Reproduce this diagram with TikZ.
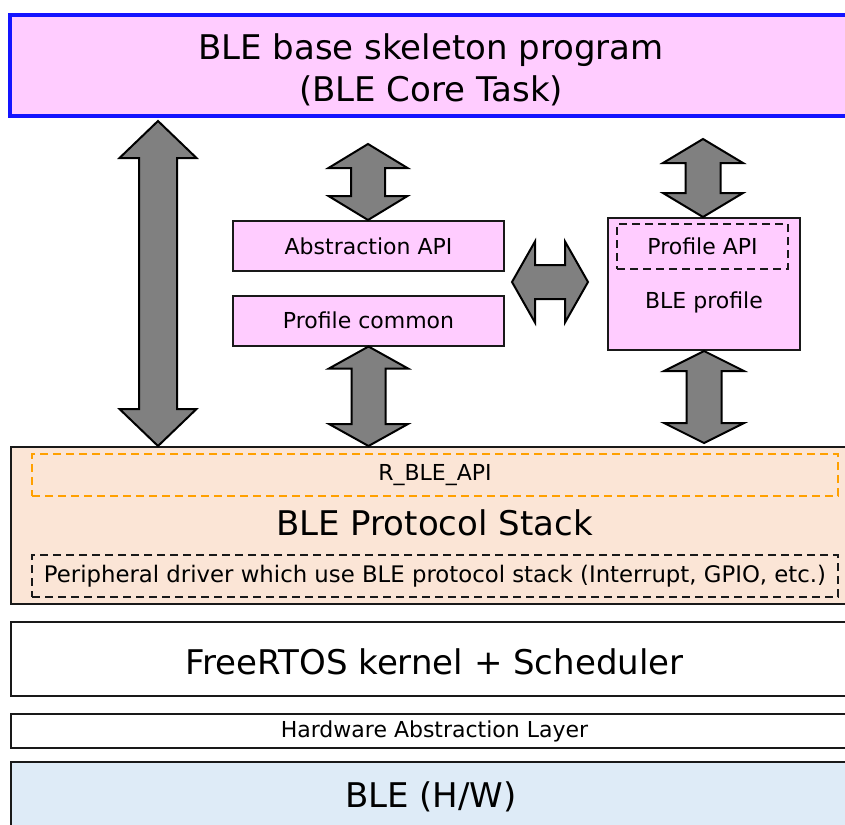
\documentclass[tikz,border=0pt]{standalone}
\usepackage{fontspec}
\setmainfont{DejaVu Sans}
\usetikzlibrary{calc}
\definecolor{blepink}{RGB}{255,204,255}
\definecolor{blepeach}{RGB}{251,229,214}
\definecolor{bleblue}{RGB}{222,235,247}
\definecolor{bleorange}{RGB}{255,160,0}
\definecolor{coreblue}{RGB}{20,20,255}
\definecolor{fatgray}{RGB}{128,128,128}
\tikzstyle{layer} = [draw=black!90, line width=1pt, inner sep=0pt, minimum width=423.5pt]
\tikzstyle{block} = [draw=black!90, line width=1pt, inner sep=0pt, fill=blepink]
\tikzstyle{dashbox} = [line width=1pt, dash pattern=on 4pt off 2.5pt, inner sep=0pt, minimum width=403pt, minimum height=21pt]
\tikzstyle{fat} = [draw=black, line width=1pt, fill=fatgray, line join=miter]
\newcommand{\bigtext}{\fontsize{17}{21}\selectfont}
\newcommand{\smalltext}{\fontsize{11}{13}\selectfont}
% vertical double arrow: top tip, bottom tip, head half width, head length, shaft half width
\newcommand{\vfat}[5]{%
  \draw[fat] let \p1=(#1), \p2=(#2) in
    (\x1,\y1) -- (\x1+#3,\y1-#4) -- (\x1+#5,\y1-#4) -- (\x1+#5,\y2+#4)
    -- (\x1+#3,\y2+#4) -- (\x1,\y2) -- (\x1-#3,\y2+#4) -- (\x1-#5,\y2+#4)
    -- (\x1-#5,\y1-#4) -- (\x1-#3,\y1-#4) -- cycle;}
% horizontal double arrow: left tip, right tip, same sizes
\newcommand{\hfat}[5]{%
  \draw[fat] let \p1=(#1), \p2=(#2) in
    (\x1,\y1) -- (\x1+#4,\y1+#3) -- (\x1+#4,\y1+#5) -- (\x2-#4,\y1+#5)
    -- (\x2-#4,\y1+#3) -- (\x2,\y1) -- (\x2-#4,\y1-#3) -- (\x2-#4,\y1-#5)
    -- (\x1+#4,\y1-#5) -- (\x1+#4,\y1-#3) -- cycle;}
\begin{document}
\begin{tikzpicture}[x=0.5pt, y=-0.5pt]
\useasboundingbox (0,0) rectangle (845,824);
\clip (0,0) rectangle (845,824);

% core task
\node[draw=coreblue, line width=2pt, fill=blepink, inner sep=0pt, minimum width=422.5pt,
  minimum height=50.5pt] (core) at (432.5,65.5) {};
\node[align=center, font=\bigtext] (coretxt) at (431,69.5)
  {BLE base skeleton program\\(BLE Core Task)};

% middle blocks
\node[block, minimum width=135.5pt, minimum height=25pt] (abs) at (368.5,246) {\smalltext Abstraction API};
\node[block, minimum width=135.5pt, minimum height=25pt] (pc) at (368.5,320.5) {\smalltext Profile common};
\node[block, minimum width=96pt, minimum height=66pt] (prof) at (704,284) {};
\node[dashbox, draw=black!90, minimum width=85.5pt, minimum height=22.5pt] (papi) at (702.5,246.5) {\smalltext Profile API};
\node (proftxt) at (704,302) {\smalltext BLE profile};

% protocol stack
\node[layer, fill=blepeach, minimum height=78.5pt] (stack) at (434.5,525.5) {};
\node[dashbox, draw=bleorange] (rapi) at (435,475) {\smalltext R\_BLE\_API};
\node (stacktxt) at (434.5,523) {\bigtext BLE Protocol Stack};
\node[dashbox, draw=black!90] (peri) at (435,576)
  {\fontsize{11.4}{13}\selectfont Peripheral driver which use BLE protocol stack (Interrupt, GPIO, etc.)};

% lower layers
\node[layer, fill=white, minimum height=37pt] (rtos) at (434.5,659) {};
\node (rtostxt) at (434.5,662) {\bigtext FreeRTOS kernel + Scheduler};
\node[layer, fill=white, minimum height=17pt] (hal) at (434.5,731) {\smalltext Hardware Abstraction Layer};
\node[layer, fill=bleblue, minimum height=64pt] (hw) at (434.5,826) {};
\node (hwtxt) at (431,797) {\bigtext BLE (H/W)};

% arrows
\coordinate (lt) at (158,121);
\coordinate (mt) at (368,144);
\coordinate (rt) at (703,139);
\coordinate (rb) at (703,443);
\coordinate (hl) at (512,282);
\coordinate (hr) at (588,282);
\vfat{lt}{stack.north}{19.25pt}{18.5pt}{9.5pt}
\vfat{mt}{abs.north}{19.75pt}{12pt}{8.5pt}
\vfat{pc.south}{stack.north}{19.75pt}{11pt}{8.5pt}
\vfat{rt}{prof.north}{20pt}{12pt}{8.75pt}
\vfat{prof.south}{rb}{20pt}{10pt}{8.75pt}
\hfat{hl}{hr}{20.25pt}{11.5pt}{8.5pt}
\end{tikzpicture}
\end{document}
